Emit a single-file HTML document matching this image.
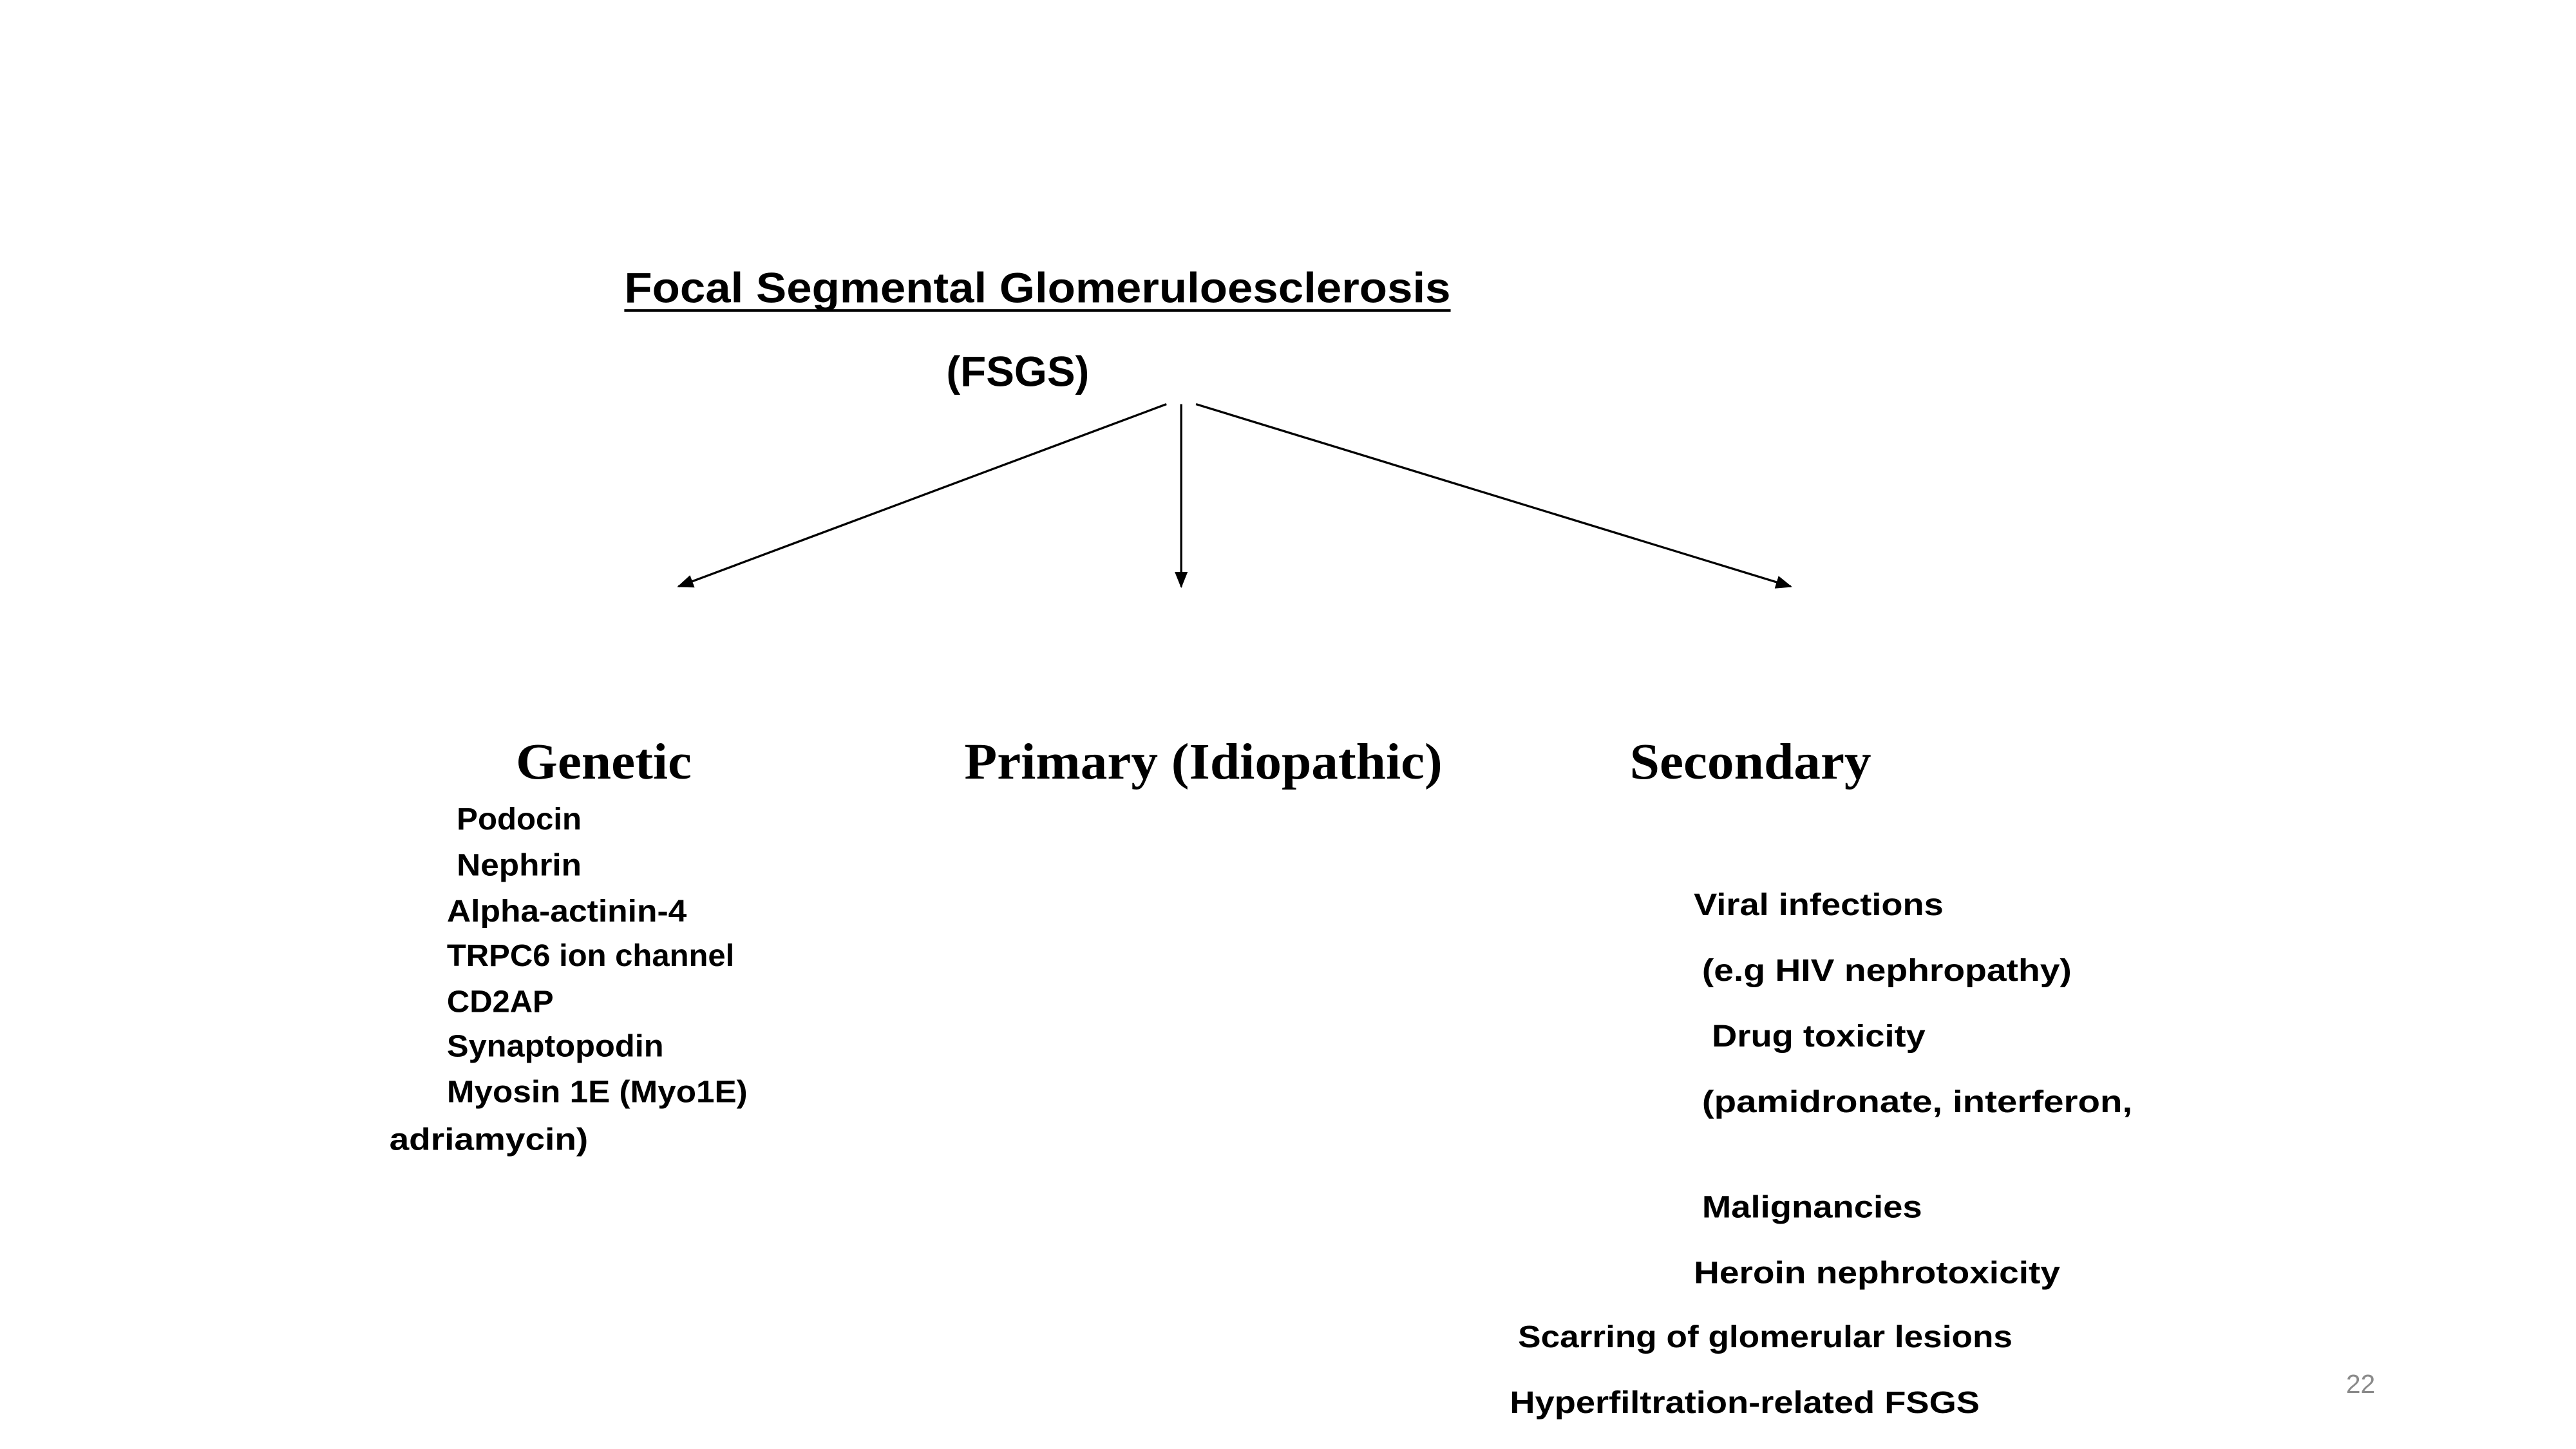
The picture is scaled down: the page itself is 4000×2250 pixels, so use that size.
<!DOCTYPE html>
<html><head><meta charset="utf-8"><style>
html,body{margin:0;padding:0;background:#fff;width:4000px;height:2250px;overflow:hidden}
svg{display:block}
.s{font-family:"Liberation Sans",sans-serif;font-weight:bold;fill:#000}
.r{font-family:"Liberation Serif",serif;font-weight:bold;fill:#000}
</style></head><body>
<svg width="4000" height="2250" viewBox="0 0 1568 882" xmlns="http://www.w3.org/2000/svg">
<defs><marker id="a" markerWidth="10" markerHeight="8" refX="9" refY="4" orient="auto" markerUnits="userSpaceOnUse"><path d="M0,0 L10,4 L0,8 z" fill="#000"/></marker></defs>
<text class="s" x="380" y="184" font-size="26" textLength="503" lengthAdjust="spacingAndGlyphs">Focal Segmental Glomeruloesclerosis</text>
<line x1="380" y1="189" x2="883" y2="189" stroke="#000" stroke-width="1.6"/>
<text class="s" x="576" y="235" font-size="26" textLength="87" lengthAdjust="spacingAndGlyphs">(FSGS)</text>
<g stroke="#000" stroke-width="1.3">
<line x1="710" y1="246" x2="413" y2="357" marker-end="url(#a)"/>
<line x1="719" y1="246" x2="719" y2="357" marker-end="url(#a)"/>
<line x1="728" y1="246" x2="1090" y2="357" marker-end="url(#a)"/>
</g>
<text class="r" x="314" y="474" font-size="31" textLength="107" lengthAdjust="spacingAndGlyphs">Genetic</text>
<text class="r" x="587" y="474" font-size="31" textLength="291" lengthAdjust="spacingAndGlyphs">Primary (Idiopathic)</text>
<text class="r" x="992" y="474" font-size="31" textLength="147" lengthAdjust="spacingAndGlyphs">Secondary</text>
<g class="s" font-size="19">
<text x="278" y="505" textLength="76" lengthAdjust="spacingAndGlyphs">Podocin</text>
<text x="278" y="533" textLength="76" lengthAdjust="spacingAndGlyphs">Nephrin</text>
<text x="272" y="561" textLength="146" lengthAdjust="spacingAndGlyphs">Alpha-actinin-4</text>
<text x="272" y="588" textLength="175" lengthAdjust="spacingAndGlyphs">TRPC6 ion channel</text>
<text x="272" y="616" textLength="65" lengthAdjust="spacingAndGlyphs">CD2AP</text>
<text x="272" y="643" textLength="132" lengthAdjust="spacingAndGlyphs">Synaptopodin</text>
<text x="272" y="671" textLength="183" lengthAdjust="spacingAndGlyphs">Myosin 1E (Myo1E)</text>
<text x="237" y="700" textLength="121" lengthAdjust="spacingAndGlyphs">adriamycin)</text>
<text x="1031" y="557" textLength="152" lengthAdjust="spacingAndGlyphs">Viral infections</text>
<text x="1036" y="597" textLength="225" lengthAdjust="spacingAndGlyphs">(e.g HIV nephropathy)</text>
<text x="1042" y="637" textLength="130" lengthAdjust="spacingAndGlyphs">Drug toxicity</text>
<text x="1036" y="677" textLength="262" lengthAdjust="spacingAndGlyphs">(pamidronate, interferon,</text>
<text x="1036" y="741" textLength="134" lengthAdjust="spacingAndGlyphs">Malignancies</text>
<text x="1031" y="781" textLength="223" lengthAdjust="spacingAndGlyphs">Heroin nephrotoxicity</text>
<text x="924" y="820" textLength="301" lengthAdjust="spacingAndGlyphs">Scarring of glomerular lesions</text>
<text x="919" y="860" textLength="286" lengthAdjust="spacingAndGlyphs">Hyperfiltration-related FSGS</text>
</g>
<text x="1428" y="848" font-family="Liberation Sans,sans-serif" font-size="16" fill="#8a8a8a">22</text>
</svg>
</body></html>
